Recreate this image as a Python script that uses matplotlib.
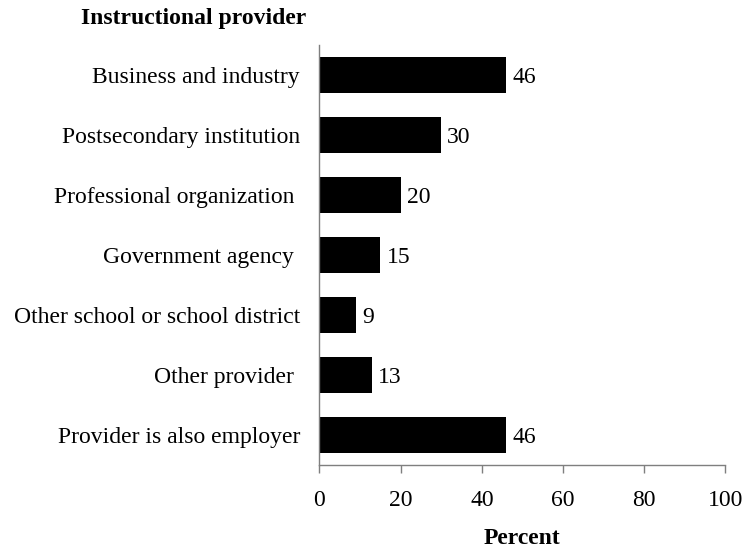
import matplotlib.pyplot as plt

# data
providers = ["Business and industry", "Postsecondary institution",
             "Professional organization ", "Government agency ",
             "Other school or school district", "Other provider ",
             "Provider is also employer"]
percent = [46, 30, 20, 15, 9, 13, 46]
xticks = [0, 20, 40, 60, 80, 100]

plt.rcParams['font.family'] = ['Liberation Serif', 'DejaVu Serif']
fs = 17

fig = plt.figure(figsize=(7.44, 5.54), dpi=100)
ax = fig.add_axes([0.4294, 0.1606, 0.5457, 0.7582])

ypos = list(range(len(providers)))
ax.barh(ypos, percent, height=0.6, color="black")
for y, v in zip(ypos, percent):
    ax.text(v + 1.5, y, str(v), va="center_baseline", ha="left", fontsize=fs)

ax.set_ylim(len(providers) - 0.5, -0.5)
ax.set_xlim(0, 100)
ax.set_yticks(ypos)
ax.set_yticklabels(providers, fontsize=fs)
ax.set_xticks(xticks)
ax.set_xticklabels([str(t) for t in xticks], fontsize=fs)

ax.tick_params(axis="y", length=0, pad=14)
ax.tick_params(axis="x", length=6, width=1, color="#7f7f7f", pad=12)
for s in ["top", "right"]:
    ax.spines[s].set_visible(False)
for s in ["left", "bottom"]:
    ax.spines[s].set_color("#7f7f7f")
    ax.spines[s].set_linewidth(1)

ax.set_xlabel("Percent", fontsize=fs, fontweight="bold", labelpad=12)
fig.text(0.26, 0.966, "Instructional provider", fontsize=fs,
         fontweight="bold", ha="center", va="center")

fig.savefig("out.png", dpi=100)
